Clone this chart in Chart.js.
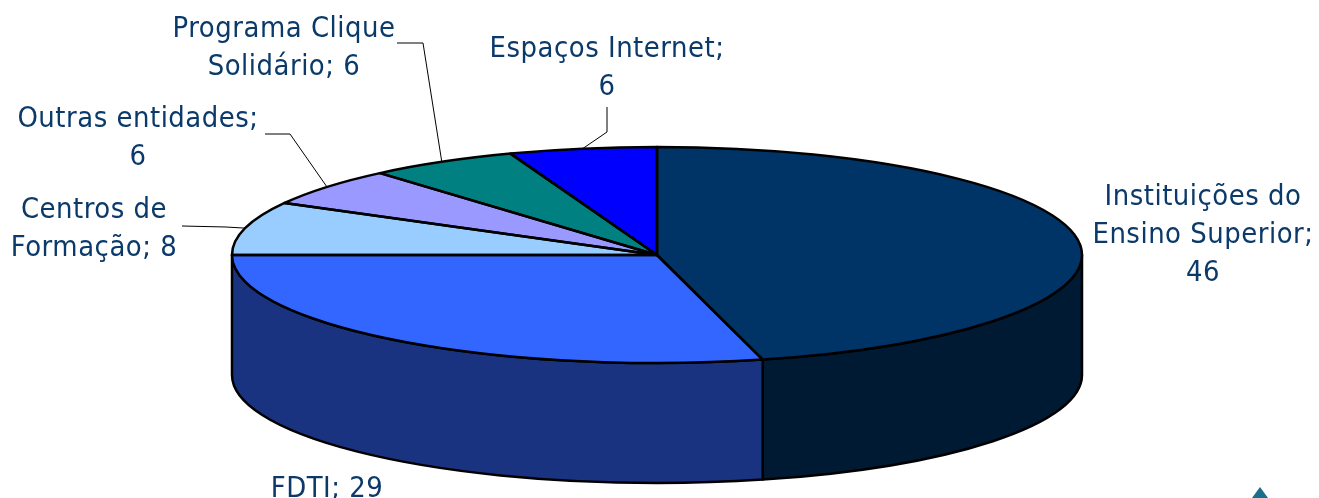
<!DOCTYPE html>
<html lang="pt">
<head>
<meta charset="utf-8">
<title>Entidades</title>
<script src="https://cdn.jsdelivr.net/npm/chart.js@4"></script>
<style>
  html, body { margin: 0; padding: 0; background: #fff; overflow: hidden; }
  canvas { display: block; }
</style>
</head>
<body>
<canvas id="grafica" width="1319" height="498"></canvas>
<script>
const categorias = [
  ["Instituições do", "Ensino Superior"],
  ["FDTI"],
  ["Centros de", "Formação"],
  ["Outras entidades"],
  ["Programa Clique", "Solidário"],
  ["Espaços Internet"]
];
const valores = [46, 29, 8, 5.7, 5.7, 5.6];

const coresTopo = ["#003366", "#3366ff", "#99ccff", "#9999ff", "#008080", "#0000ff"];
const coresLado = ["#001a33", "#1a3380", "#4d6680", "#4d4d80", "#004040", "#000080"];

// elipse do topo e altura do cilindro
const rx = 425, ry = 108, altura = 120;

// etiquetas: centro x, linha de base da 1a linha, valor em linha nova, guia
const etiquetas = [
  { x: 1203, y: 205, novaLinha: true, guia: null },
  { x: 327, y: 497, novaLinha: false, guia: null },
  { x: 94, y: 218, novaLinha: false, guia: [[182, 226], [226, 227]] },
  { x: 138, y: 127, novaLinha: true, guia: [[265, 134], [290, 134]] },
  { x: 284, y: 37, novaLinha: false, guia: [[397, 43], [423, 43]] },
  { x: 607, y: 57, novaLinha: true, guia: [[607, 107], [607, 132]] }
];

function pontoElipse(arc, ang) {
  return [arc.x + Math.cos(ang) * rx, arc.y + Math.sin(ang) * ry];
}

const pizza3d = {
  id: "pizza3d",
  beforeDatasetsDraw(chart) {
    const ctx = chart.ctx;
    const arcos = chart.getDatasetMeta(0).data;
    // paredes laterais, só a metade da frente
    arcos.forEach((arc, i) => {
      const a0 = Math.max(arc.startAngle, 0);
      const a1 = Math.min(arc.endAngle, Math.PI);
      if (a1 <= a0) return;
      ctx.beginPath();
      ctx.ellipse(arc.x, arc.y, rx, ry, 0, a0, a1);
      ctx.ellipse(arc.x, arc.y + altura, rx, ry, 0, a1, a0, true);
      ctx.closePath();
      ctx.fillStyle = coresLado[i];
      ctx.fill();
      ctx.lineWidth = 2.5;
      ctx.lineJoin = "round";
      ctx.strokeStyle = "#000";
      ctx.stroke();
    });
    // o topo é desenhado pelo Chart.js, achatado numa elipse
    const c = arcos[0];
    const R = c.outerRadius;
    ctx.save();
    ctx.translate(c.x, c.y);
    ctx.scale(rx / R, ry / R);
    ctx.translate(-c.x, -c.y);
  },
  afterDatasetsDraw(chart) {
    const ctx = chart.ctx;
    ctx.restore();
    chart.getDatasetMeta(0).data.forEach(arc => {
      ctx.beginPath();
      ctx.moveTo(arc.x, arc.y);
      ctx.ellipse(arc.x, arc.y, rx, ry, 0, arc.startAngle, arc.endAngle);
      ctx.closePath();
      ctx.lineWidth = 2.5;
      ctx.lineJoin = "round";
      ctx.strokeStyle = "#000";
      ctx.stroke();
    });
  }
};

const rotulos = {
  id: "rotulos",
  afterDraw(chart) {
    const ctx = chart.ctx;
    chart.getDatasetMeta(0).data.forEach((arc, i) => {
      const e = etiquetas[i];
      const valor = Math.round(valores[i]);
      const linhas = categorias[i].slice();
      const ult = linhas.length - 1;
      if (e.novaLinha) {
        linhas[ult] += ";";
        linhas.push(String(valor));
      } else {
        linhas[ult] += "; " + valor;
      }

      if (e.guia) {
        const fim = pontoElipse(arc, (arc.startAngle + arc.endAngle) / 2);
        ctx.beginPath();
        ctx.moveTo(e.guia[0][0], e.guia[0][1]);
        ctx.lineTo(e.guia[1][0], e.guia[1][1]);
        ctx.lineTo(fim[0], fim[1]);
        ctx.lineWidth = 1;
        ctx.strokeStyle = "#000";
        ctx.stroke();
      }

      ctx.fillStyle = "#0b3a6a";
      ctx.font = "26px 'DejaVu Sans'";
      ctx.letterSpacing = "0.5px";
      ctx.textAlign = "center";
      ctx.textBaseline = "alphabetic";
      linhas.forEach((t, k) => {
        ctx.save();
        ctx.translate(e.x, e.y + k * 38);
        ctx.scale(1, 1.1);
        ctx.fillText(t, 0, 0);
        ctx.restore();
      });
    });

    // canto do logotipo
    ctx.beginPath();
    ctx.moveTo(1260, 487);
    ctx.lineTo(1268, 498);
    ctx.lineTo(1252, 498);
    ctx.closePath();
    ctx.fillStyle = "#1a6f8a";
    ctx.fill();
  }
};

new Chart(document.getElementById("grafica").getContext("2d"), {
  type: "pie",
  data: {
    labels: categorias,
    datasets: [{
      data: valores,
      backgroundColor: coresTopo,
      borderWidth: 0,
      clip: false
    }]
  },
  options: {
    responsive: false,
    animation: false,
    events: [],
    layout: { padding: { left: 0, right: 5, top: 12, bottom: 0 } },
    plugins: {
      legend: { display: false },
      tooltip: { enabled: false },
      title: { display: false }
    }
  },
  plugins: [pizza3d, rotulos]
});
</script>
</body>
</html>
